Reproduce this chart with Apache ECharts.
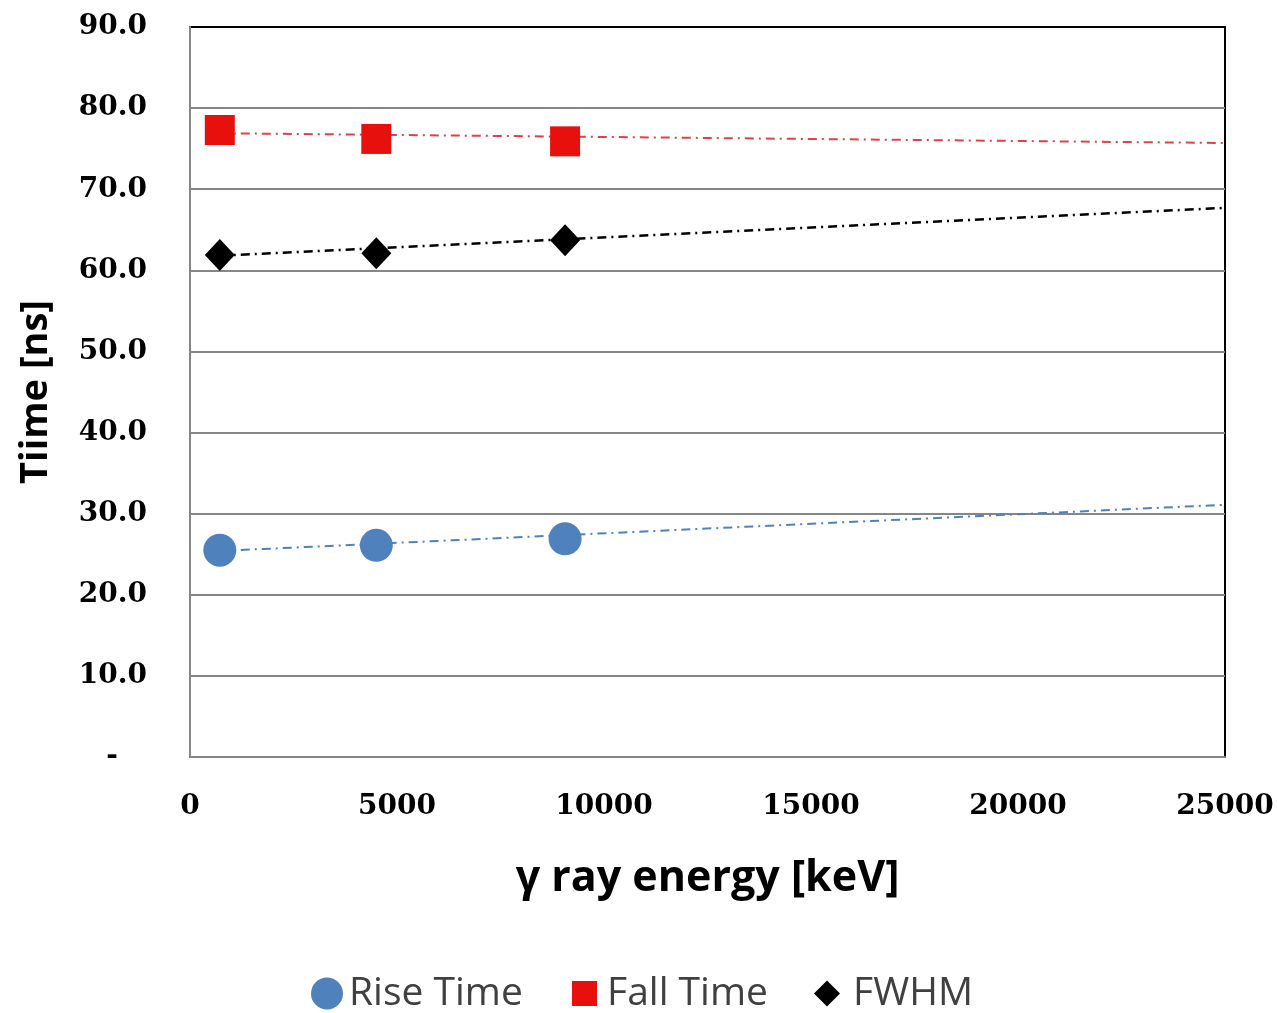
<!DOCTYPE html>
<html>
<head>
<meta charset="utf-8">
<script src="https://cdn.jsdelivr.net/npm/echarts@6/dist/echarts.min.js"></script>
<style>
  html, body { margin: 0; padding: 0; background: #fff; }
  #chart { width: 1277px; height: 1013px; }
</style>
</head>
<body>
<div id="chart"></div>
<script>
// ---- data ----
const energies = [720, 4500, 9060];           // keV
const riseTime = [25.5, 26.1, 26.9];          // ns
const fallTime = [77.3, 76.2, 75.9];          // ns
const fwhm     = [61.9, 62.1, 63.7];          // ns

// trend-line endpoints (as drawn in the reference)
const trendX     = [720, 25000];
const riseTrend  = [25.4, 31.1];
const fallTrend  = [76.9, 75.7];
const fwhmTrend  = [61.8, 67.7];

const xTicks = [0, 5000, 10000, 15000, 20000, 25000];
const yTicks = [0, 10, 20, 30, 40, 50, 60, 70, 80, 90];

const seriesNames = ['Rise Time', 'Fall Time', 'FWHM'];
const colors = { rise: '#4F81BD', fall: '#E8100C', fwhm: '#000000' };

const zip = (xs, ys) => xs.map((x, i) => [x, ys[i]]);

const tickFont = { fontFamily: 'DejaVu Serif', fontWeight: 'bold', fontSize: 28, color: '#000' };
const titleFont = { fontFamily: 'Open Sans', fontWeight: 'bold', fontSize: 38, color: '#000' };
const xTitleFont = { fontFamily: 'Open Sans', fontWeight: 'bold', fontSize: 43, color: '#000' };
const legendText = (pad) => ({ fontFamily: 'Open Sans', fontSize: 39, color: '#404040', padding: [0, 0, 0, pad] });
const dashDot = [9, 5, 2, 5];
// gridline colours: gray for interior lines, dark for the top frame line
const gridColors = yTicks.map((v, i) => i === yTicks.length - 1 ? '#000' : '#868686');

const chart = echarts.init(document.getElementById('chart'), null, { renderer: 'canvas' });

const option = {
  backgroundColor: '#ffffff',
  animation: false,
  grid: {
    left: 190, right: 52, top: 27, bottom: 256,
    outerBoundsMode: 'none', containLabel: false,
    show: true, borderColor: '#000', borderWidth: 2, backgroundColor: '#fff'
  },
  legend: [
    { data: [{ name: seriesNames[0], icon: 'circle' }], left: 306, top: 969, itemWidth: 32, itemHeight: 32, textStyle: legendText(1), selectedMode: false },
    { data: [{ name: seriesNames[1], icon: 'rect' }], left: 567, top: 969, itemWidth: 25, itemHeight: 25, textStyle: legendText(5), selectedMode: false },
    { data: [{ name: seriesNames[2], icon: 'diamond' }], left: 809, top: 969, itemWidth: 26, itemHeight: 26, textStyle: legendText(8), selectedMode: false }
  ],
  xAxis: {
    type: 'value', min: xTicks[0], max: xTicks[xTicks.length - 1], interval: 5000,
    name: 'γ ray energy [keV]', nameLocation: 'middle', nameGap: 100, nameTextStyle: xTitleFont,
    axisLine: { show: true, lineStyle: { color: '#868686', width: 2 } },
    axisTick: { show: false },
    splitLine: { show: false },
    axisLabel: Object.assign({ margin: 36, formatter: v => String(v) }, tickFont)
  },
  yAxis: {
    type: 'value', min: yTicks[0], max: yTicks[yTicks.length - 1], interval: 10,
    name: 'Tiime [ns]', nameLocation: 'middle', nameGap: 135, nameRotate: 90, nameTextStyle: titleFont,
    axisLine: { show: true, lineStyle: { color: '#868686', width: 2 } },
    axisTick: { show: false },
    splitLine: { show: true, lineStyle: { color: gridColors, width: 2 } },
    axisLabel: Object.assign({ margin: 43, formatter: v => v === 0 ? '-   ' : v.toFixed(1) }, tickFont)
  },
  series: [
    { name: 'riseTrend', type: 'line', data: zip(trendX, riseTrend), symbol: 'none', silent: true,
      lineStyle: { color: colors.rise, width: 2, type: dashDot }, z: 2 },
    { name: 'fallTrend', type: 'line', data: zip(trendX, fallTrend), symbol: 'none', silent: true,
      lineStyle: { color: '#E0404A', width: 2, type: dashDot }, z: 2 },
    { name: 'fwhmTrend', type: 'line', data: zip(trendX, fwhmTrend), symbol: 'none', silent: true,
      lineStyle: { color: '#000', width: 2.5, type: dashDot }, z: 2 },
    { name: seriesNames[0], type: 'scatter', data: zip(energies, riseTime), symbol: 'circle', symbolSize: 33,
      itemStyle: { color: colors.rise, opacity: 1 }, z: 3 },
    { name: seriesNames[1], type: 'scatter', data: zip(energies, fallTime), symbol: 'rect', symbolSize: 30,
      itemStyle: { color: colors.fall, opacity: 1 }, z: 3 },
    { name: seriesNames[2], type: 'scatter', data: zip(energies, fwhm), symbol: 'diamond', symbolSize: [30, 32],
      itemStyle: { color: colors.fwhm, opacity: 1 }, z: 3 }
  ]
};
chart.setOption(option);
</script>
</body>
</html>
